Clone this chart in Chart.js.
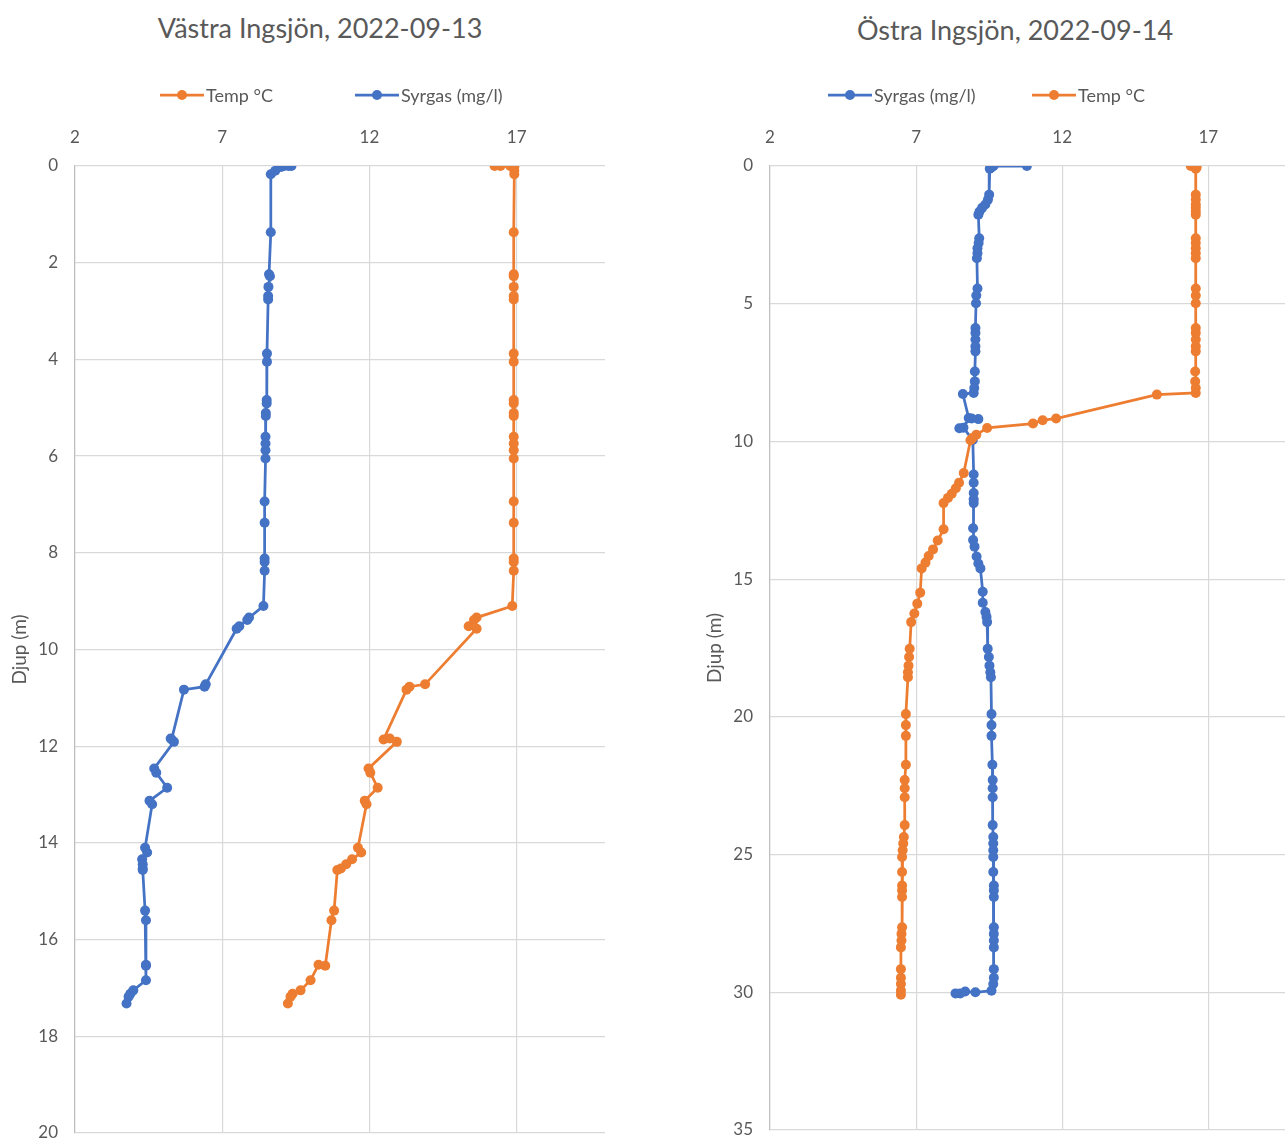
<!DOCTYPE html>
<html>
<head>
<meta charset="utf-8">
<script src="https://cdn.jsdelivr.net/npm/chart.js@4.4.0/dist/chart.umd.min.js"></script>
<style>
  html, body { margin: 0; padding: 0; background: #fff; overflow: hidden; width: 1285px; height: 1138px; }
  .panel { position: absolute; top: 0; width: 640px; height: 1138px; }
  .panel canvas { position: absolute; left: 0; top: 0; }
  .title { position: absolute; top: 12px; left: 0; width: 640px; text-align: center;
           font-family: Lato, "Open Sans", sans-serif; font-size: 27px; line-height: 32px; color: #595959; }
  .legend-item { position: absolute; top: 85px; height: 20px; display: flex; align-items: center;
                 font-family: Lato, "Open Sans", sans-serif; font-size: 18px; color: #595959; white-space: nowrap; }
  .legend-item canvas { position: static; margin-right: 2px; }
</style>
</head>
<body>
<div class="panel" id="west" style="left:0px">
  <div class="title">Västra Ingsjön, 2022-09-13</div>
  <canvas id="westChart" width="640" height="1138"></canvas>
</div>
<div class="panel" id="east" style="left:695px">
  <div class="title" style="top:14px">Östra Ingsjön, 2022-09-14</div>
  <canvas id="eastChart" width="640" height="1135"></canvas>
</div>
<script>
// Depth profiles (m) with temperature (°C) and dissolved oxygen (mg/l)
const xTicks = [2, 7, 12, 17];

const westDepth = [0.00, 0.00, 0.00, 0.02, 0.10, 0.17, 1.37, 2.24, 2.28, 2.50, 2.69, 2.76,
  3.88, 4.05, 4.84, 4.91, 5.11, 5.17, 5.60, 5.74, 5.88, 6.05, 6.94, 7.38,
  8.12, 8.19, 8.37, 9.10, 9.34, 9.39, 9.52, 9.57, 10.72, 10.77, 10.83, 11.86,
  11.84, 11.91, 12.46, 12.55, 12.86, 13.13, 13.20, 14.10, 14.20, 14.34, 14.44, 14.53,
  14.56, 15.40, 15.60, 16.54, 16.52, 16.84, 17.05, 17.12, 17.18, 17.32];
const westO2 = [9.35, 9.25, 9.10, 9.00, 8.80, 8.65, 8.65, 8.59, 8.62, 8.57, 8.56, 8.56,
  8.52, 8.52, 8.51, 8.51, 8.48, 8.48, 8.47, 8.47, 8.47, 8.47, 8.44, 8.44,
  8.44, 8.44, 8.44, 8.40, 7.91, 7.85, 7.58, 7.49, 6.44, 6.40, 5.70, 5.28,
  5.25, 5.36, 4.69, 4.76, 5.13, 4.53, 4.62, 4.38, 4.45, 4.28, 4.30, 4.30,
  4.30, 4.38, 4.41, 4.41, 4.41, 4.41, 3.98, 3.88, 3.82, 3.75];
const westTemp = [16.25, 16.45, 16.78, 16.92, 16.92, 16.92, 16.90, 16.90, 16.90, 16.90, 16.90, 16.90,
  16.90, 16.90, 16.90, 16.90, 16.90, 16.90, 16.90, 16.90, 16.90, 16.90, 16.90, 16.90,
  16.90, 16.90, 16.90, 16.85, 15.64, 15.55, 15.37, 15.64, 13.89, 13.36, 13.26, 12.48,
  12.69, 12.93, 11.97, 12.03, 12.28, 11.84, 11.90, 11.61, 11.72, 11.41, 11.21, 11.03,
  10.91, 10.80, 10.71, 10.50, 10.27, 10.00, 9.66, 9.39, 9.32, 9.23];

const eastO2Depth = [0.00, 0.00, 0.05, 0.10, 1.04, 1.22, 1.40, 1.52, 1.65, 1.77,
  2.62, 2.80, 2.99, 3.17, 3.35, 4.45, 4.70, 4.98, 5.88, 6.06,
  6.30, 6.55, 6.73, 7.46, 7.82, 8.06, 8.24, 8.28, 9.15, 9.19,
  9.17, 9.52, 9.50, 9.95, 11.20, 11.50, 11.87, 12.10, 12.24, 13.15,
  13.58, 13.82, 14.18, 14.43, 14.61, 15.46, 15.86, 16.19, 16.37, 16.56,
  17.53, 17.83, 18.14, 18.38, 18.56, 19.90, 20.30, 20.69, 21.74, 22.29,
  22.59, 22.92, 23.93, 24.36, 24.60, 24.84, 25.09, 25.63, 26.12, 26.30,
  26.54, 27.64, 27.88, 28.12, 28.37, 29.16, 29.47, 29.70, 29.94, 30.00,
  29.97, 30.04, 30.04];
const eastO2 = [10.79, 9.65, 9.58, 9.52, 9.50, 9.46, 9.37, 9.26, 9.17, 9.13,
  9.16, 9.14, 9.10, 9.10, 9.08, 9.10, 9.06, 9.05, 9.03, 9.03,
  9.03, 9.03, 9.03, 9.01, 9.01, 8.99, 8.97, 8.60, 8.80, 9.13,
  8.90, 8.48, 8.62, 8.94, 8.97, 8.97, 8.97, 8.97, 8.97, 8.95,
  8.95, 9.00, 9.07, 9.13, 9.20, 9.28, 9.28, 9.37, 9.41, 9.43,
  9.45, 9.49, 9.51, 9.54, 9.56, 9.58, 9.58, 9.58, 9.61, 9.62,
  9.62, 9.62, 9.62, 9.64, 9.64, 9.64, 9.64, 9.64, 9.66, 9.66,
  9.66, 9.66, 9.66, 9.66, 9.66, 9.66, 9.66, 9.64, 9.58, 9.03,
  8.68, 8.51, 8.35];

const eastTempDepth = [0.00, 0.00, 0.05, 0.10, 1.04, 1.22, 1.40, 1.52, 1.65, 1.77,
  2.62, 2.80, 2.99, 3.17, 3.35, 4.45, 4.70, 4.98, 5.88, 6.06,
  6.30, 6.55, 6.73, 7.46, 7.82, 8.06, 8.24, 8.30, 9.17, 9.23,
  9.35, 9.51, 9.76, 9.88, 9.96, 11.15, 11.50, 11.70, 11.90, 12.05,
  12.24, 13.19, 13.60, 13.92, 14.16, 14.40, 14.61, 15.49, 15.89, 16.25,
  16.56, 17.53, 17.83, 18.14, 18.38, 18.56, 19.90, 20.30, 20.69, 21.74,
  22.29, 22.59, 22.92, 23.93, 24.36, 24.60, 24.84, 25.09, 25.63, 26.12,
  26.30, 26.54, 27.64, 27.88, 28.12, 28.37, 29.16, 29.47, 29.70, 29.94,
  30.09];
const eastTemp = [16.40, 16.55, 16.60, 16.57, 16.57, 16.57, 16.57, 16.57, 16.57, 16.57,
  16.57, 16.57, 16.57, 16.57, 16.57, 16.57, 16.57, 16.57, 16.57, 16.57,
  16.57, 16.57, 16.57, 16.55, 16.55, 16.57, 16.57, 15.24, 11.79, 11.33,
  11.00, 9.43, 9.06, 8.93, 8.86, 8.63, 8.47, 8.36, 8.22, 8.09,
  7.94, 7.94, 7.74, 7.58, 7.43, 7.32, 7.19, 7.14, 7.04, 6.94,
  6.83, 6.78, 6.76, 6.74, 6.72, 6.72, 6.65, 6.65, 6.65, 6.65,
  6.61, 6.61, 6.61, 6.61, 6.58, 6.56, 6.54, 6.52, 6.52, 6.52,
  6.52, 6.52, 6.52, 6.50, 6.50, 6.48, 6.48, 6.48, 6.48, 6.48,
  6.48];

const LABEL_TEMP = 'Temp °C';
const LABEL_O2 = 'Syrgas (mg/l)';
const ORANGE = '#ED7D31';
const BLUE = '#4472C4';
const TEXT = '#595959';
const GRID = '#D9D9D9';
const FONT = 'Lato, "Open Sans", sans-serif';

// plot-area geometry inside each canvas
const PAD_TOP = 120;      // space above the top axis (title and legend sit here)
const PAD_LEFT = 8;
const PLOT_LEFT = 75;
const PLOT_TOP = 166;
const DOT = 5;
const LINE = 2.75;

function points(values, depths) {
  return values.map((v, i) => ({ x: v, y: depths[i] }));
}

function series(label, values, depths, color, order) {
  return {
    label, data: points(values, depths), showLine: true, order,
    borderColor: color, backgroundColor: color, borderWidth: LINE,
    pointRadius: DOT, pointBorderWidth: 0, pointBackgroundColor: color,
    pointHoverRadius: DOT
  };
}

function legendItem(panel, left, label, color) {
  const item = document.createElement('div');
  item.className = 'legend-item';
  item.style.left = left + 'px';
  const mark = document.createElement('canvas');
  mark.width = 44; mark.height = 12;
  const c = mark.getContext('2d');
  c.strokeStyle = color; c.lineWidth = LINE;
  c.beginPath(); c.moveTo(0, 6); c.lineTo(44, 6); c.stroke();
  c.fillStyle = color;
  c.beginPath(); c.arc(22, 6, DOT, 0, Math.PI * 2); c.fill();
  item.appendChild(mark);
  const span = document.createElement('span');
  span.textContent = label;
  item.appendChild(span);
  document.getElementById(panel).appendChild(item);
}

function makeChart(id, datasets, yMax, yStep, padRight) {
  return new Chart(document.getElementById(id), {
    type: 'scatter',
    data: { datasets },
    options: {
      responsive: false,
      animation: false,
      events: [],
      layout: { padding: { top: PAD_TOP, left: PAD_LEFT, right: padRight, bottom: 5 } },
      plugins: { legend: { display: false }, title: { display: false }, tooltip: { enabled: false } },
      scales: {
        x: {
          type: 'linear', position: 'top', min: 2, max: 20,
          afterBuildTicks: s => { s.ticks = xTicks.map(v => ({ value: v })); },
          afterFit: s => { s.height = PLOT_TOP - PAD_TOP; },
          ticks: { padding: 18, color: TEXT, font: { family: FONT, size: 17 } },
          grid: { color: GRID, lineWidth: 1.2, drawTicks: false, tickLength: 0 },
          border: { display: false }
        },
        y: {
          type: 'linear', reverse: true, min: 0, max: yMax,
          afterFit: s => { s.width = PLOT_LEFT - PAD_LEFT; s.paddingTop = 0; s.paddingBottom = 0; },
          ticks: { stepSize: yStep, padding: 17, color: TEXT, font: { family: FONT, size: 17 } },
          grid: { color: GRID, lineWidth: 1.2, drawTicks: false, tickLength: 0 },
          border: { display: true, color: '#BFBFBF', width: 1.2 },
          title: { display: true, text: 'Djup (m)', color: TEXT,
                   font: { family: FONT, size: 19 }, padding: { top: 0, bottom: 0 } }
        }
      }
    }
  });
}

makeChart('westChart', [
  series(LABEL_TEMP, westTemp, westDepth, ORANGE, 0),
  series(LABEL_O2, westO2, westDepth, BLUE, 1)
], 20, 2, 35);

makeChart('eastChart', [
  series(LABEL_O2, eastO2, eastO2Depth, BLUE, 1),
  series(LABEL_TEMP, eastTemp, eastTempDepth, ORANGE, 0)
], 35, 5, 39);

legendItem('west', 160, LABEL_TEMP, ORANGE);
legendItem('west', 355, LABEL_O2, BLUE);
legendItem('east', 133, LABEL_O2, BLUE);
legendItem('east', 337, LABEL_TEMP, ORANGE);
</script>
</body>
</html>
